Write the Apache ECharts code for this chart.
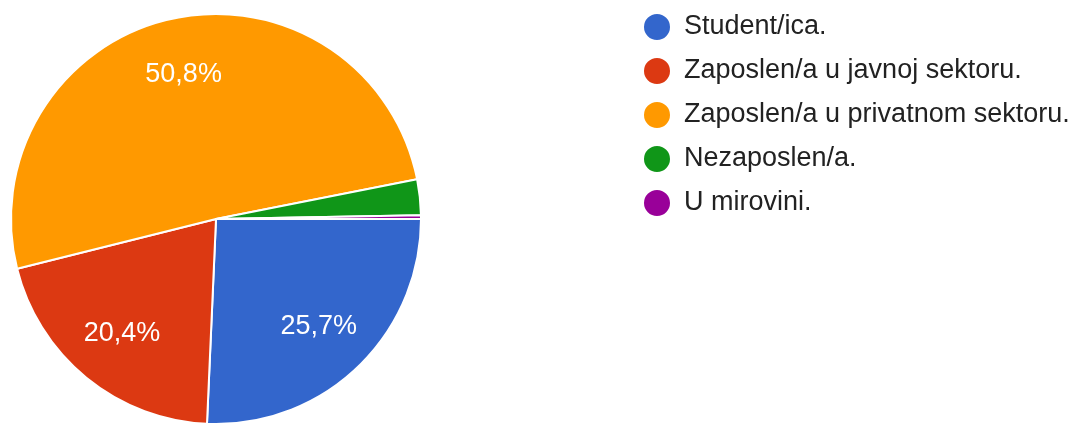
<!DOCTYPE html>
<html>
<head>
<meta charset="utf-8">
<script src="https://cdn.jsdelivr.net/npm/echarts@6/dist/echarts.min.js"></script>
<style>
html,body{margin:0;padding:0;background:#fff;}
#statusChart{width:1080px;height:423px;}
</style>
</head>
<body>
<div id="statusChart"></div>
<script>
// kategorije i postoci
var categories = ['Student/ica.', 'Zaposlen/a u javnoj sektoru.', 'Zaposlen/a u privatnom sektoru.', 'Nezaposlen/a.', 'U mirovini.'];
var percents = [25.7, 20.4, 50.8, 2.8, 0.3];
var colors = ['#3366cc', '#dc3912', '#ff9900', '#109618', '#990099'];

var statusPie = {
    init:function(){
        var chart = echarts.init(document.getElementById('statusChart'));
        chart.setOption(statusPie.getOption(), false);
    },
    getData:function(){
        var list = [];
        for (var i = 0; i < categories.length; i++) {
            list.push({name: categories[i], value: percents[i]});
        }
        return list;
    },
    getOption:function(){
        var data = statusPie.getData();
        return {
            color: colors,
            animation: false,
            textStyle: {fontFamily: 'Liberation Sans, Arial, sans-serif'},
            legend: {
                orient: 'vertical',
                left: 637,
                top: 7,
                icon: 'circle',
                itemWidth: 28,
                itemHeight: 28,
                itemGap: 14,
                data: categories,
                textStyle: {
                    fontSize: 27,
                    color: '#222',
                    padding: [0, 0, 0, 8]
                }
            },
            series: [
                {
                    // kolac
                    name: 'status',
                    type: 'pie',
                    center: [216, 219],
                    radius: [0, 205],
                    startAngle: 0,
                    clockwise: true,
                    silent: true,
                    itemStyle: {borderColor: '#fff', borderWidth: 2},
                    label: {show: false},
                    labelLine: {show: false},
                    data: data
                },
                {
                    // samo oznake, da postoci stoje dalje od sredista
                    name: 'oznake',
                    type: 'pie',
                    center: [216, 219],
                    radius: [86, 205],
                    startAngle: 0,
                    clockwise: true,
                    silent: true,
                    legendHoverLink: false,
                    itemStyle: {color: 'rgba(0,0,0,0)'},
                    labelLine: {show: false},
                    label: {
                        show: true,
                        position: 'inside',
                        color: '#fff',
                        fontSize: 27,
                        fontFamily: 'Liberation Sans, Arial, sans-serif',
                        formatter: function(p){
                            if (p.value < 5) return '';
                            return p.value.toFixed(1).replace('.', ',') + '%';
                        }
                    },
                    data: data
                }
            ]
        };
    }
};

statusPie.init();
</script>
</body>
</html>
